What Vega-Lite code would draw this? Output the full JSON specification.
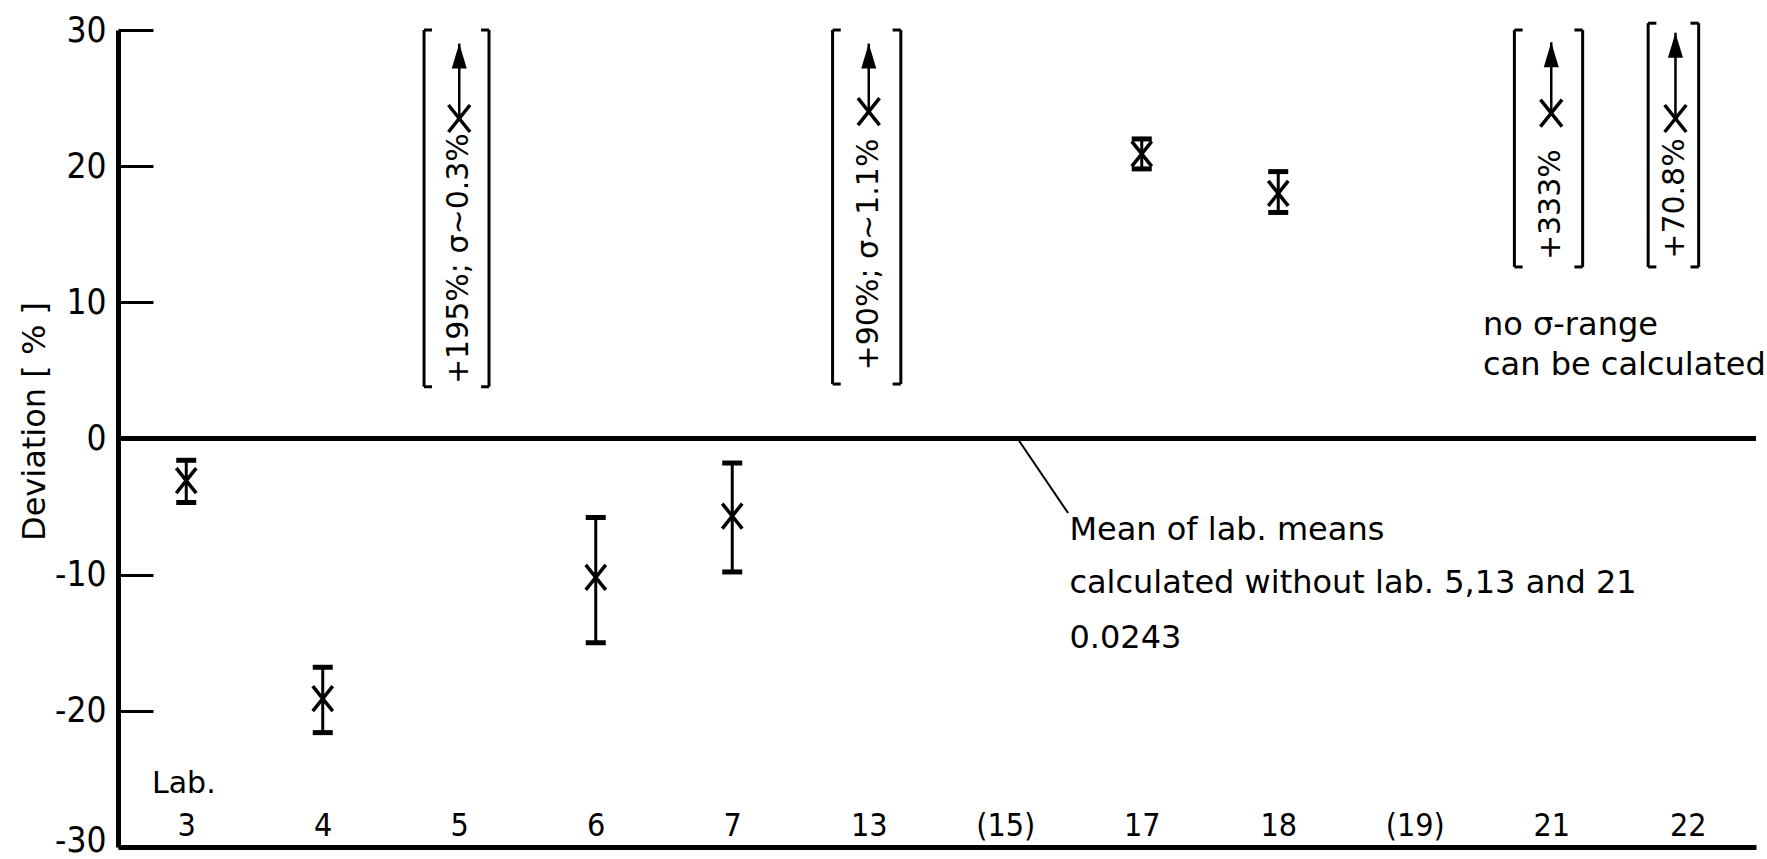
{
  "$schema": "https://vega.github.io/schema/vega-lite/v6.json",
  "width": 1638,
  "height": 817,
  "autosize": {"type": "none"},
  "padding": {"left": 118, "top": 30, "right": 11, "bottom": 12},
  "background": "white",
  "config": {"view": {"stroke": null}, "font": "DejaVu Sans"},
  "datasets": {
    "labs": [
      {"lab": "3", "x": 0, "y": -3.1, "lo": -4.7, "hi": -1.6},
      {"lab": "4", "x": 1, "y": -19.1, "lo": -21.6, "hi": -16.8},
      {"lab": "6", "x": 3, "y": -10.2, "lo": -15.0, "hi": -5.8},
      {"lab": "7", "x": 4, "y": -5.7, "lo": -9.8, "hi": -1.8},
      {"lab": "17", "x": 7, "y": 20.9, "lo": 19.8, "hi": 22.0},
      {"lab": "18", "x": 8, "y": 18.0, "lo": 16.6, "hi": 19.6}
    ],
    "outl": [
      {"lab": "5", "x": 2, "y": 23.5, "tip": 29.0, "ty": 4.0, "label": "+195%; σ~0.3%"},
      {"lab": "13", "x": 5, "y": 24.0, "tip": 29.0, "ty": 5.0, "label": "+90%; σ~1.1%"},
      {"lab": "21", "x": 10, "y": 23.9, "tip": 29.1, "ty": 13.1, "label": "+333%"},
      {"lab": "22", "x": 10.91, "y": 23.5, "tip": 29.8, "ty": 13.2, "label": "+70.8%"}
    ],
    "brk": [
      {"lab": "5", "x": 1.742, "xs": 1.80, "lo": 3.8, "hi": 30},
      {"lab": "5", "x": 2.218, "xs": 2.16, "lo": 3.8, "hi": 30},
      {"lab": "13", "x": 4.735, "xs": 4.795, "lo": 4.0, "hi": 30},
      {"lab": "13", "x": 5.235, "xs": 5.175, "lo": 4.0, "hi": 30},
      {"lab": "21", "x": 9.73, "xs": 9.79, "lo": 12.6, "hi": 30},
      {"lab": "21", "x": 10.23, "xs": 10.17, "lo": 12.6, "hi": 30},
      {"lab": "22", "x": 10.71, "xs": 10.77, "lo": 12.6, "hi": 30.5},
      {"lab": "22", "x": 11.08, "xs": 11.02, "lo": 12.6, "hi": 30.5}
    ],
    "zero": [{"y": 0}],
    "lead": [{"x": 6.09, "y": 0, "x2": 6.46, "y2": -5.47}],
    "notes": [
      {"x": 6.47, "y": -7.45, "text": "Mean of lab. means"},
      {"x": 6.47, "y": -11.35, "text": "calculated without lab. 5,13 and 21"},
      {"x": 6.47, "y": -15.4, "text": "0.0243"},
      {"x": 9.5, "y": 7.6, "text": "no σ-range"},
      {"x": 9.5, "y": 4.66, "text": "can be calculated"}
    ],
    "lablab": [{"x": -0.251, "y": -26.0, "text": "Lab."}]
  },
  "layer": [
    {
      "data": {"name": "labs"},
      "mark": {"type": "rule", "strokeWidth": 3, "color": "black"},
      "encoding": {
        "x": {
          "field": "x", "type": "quantitative",
          "scale": {"domain": [-0.5, 11.5], "nice": false, "zero": false},
          "axis": {
            "title": null,
            "values": [0, 1, 2, 3, 4, 5, 6, 7, 8, 9, 10, 11],
            "labelExpr": "['3','4','5','6','7','13','(15)','17','18','(19)','21','22'][datum.value]",
            "ticks": false, "grid": false,
            "domain": true, "domainWidth": 5, "domainColor": "black",
            "labelPadding": -22, "labelBaseline": "middle",
            "labelFontSize": 32, "labelFont": "DejaVu Sans Condensed, Liberation Sans Narrow, DejaVu Sans",
            "labelColor": "black", "labelFlush": false, "labelOverlap": false
          }
        },
        "y": {
          "field": "lo", "type": "quantitative",
          "scale": {"domain": [-30, 30], "nice": false, "zero": false},
          "axis": {
            "title": "Deviation [ % ]",
            "values": [-30, -20, -10, 0, 10, 20, 30],
            "labelExpr": "(datum.value < 0 ? '-' : '') + abs(datum.value)",
            "labelOffset": {"condition": {"test": "datum.value === -30", "value": -7}, "value": 0},
            "tickSize": -35, "tickWidth": 3, "tickColor": "black",
            "domainWidth": 5, "domainColor": "black", "grid": false,
            "labelPadding": 47, "labelFontSize": 35,
            "labelFont": "DejaVu Sans Condensed, Liberation Sans Narrow, DejaVu Sans",
            "labelColor": "black", "labelFlush": false, "labelOverlap": false,
            "titleFontSize": 32, "titleFont": "DejaVu Sans", "titleFontWeight": "normal",
            "titleColor": "black", "titleX": -84, "titleY": 391, "titleAngle": 270,
            "titleBaseline": "middle", "titleAlign": "center"
          }
        },
        "y2": {"field": "hi"}
      }
    },
    {
      "data": {"name": "zero"},
      "mark": {"type": "rule", "strokeWidth": 5, "color": "black"},
      "encoding": {"y": {"field": "y", "type": "quantitative"}}
    },
    {
      "data": {"name": "lead"},
      "mark": {"type": "rule", "strokeWidth": 2, "color": "black"},
      "encoding": {
        "x": {"field": "x", "type": "quantitative"},
        "y": {"field": "y", "type": "quantitative"},
        "x2": {"field": "x2"},
        "y2": {"field": "y2"}
      }
    },
    {
      "data": {"name": "labs"},
      "mark": {"type": "tick", "orient": "horizontal", "size": 20, "thickness": 5, "color": "black", "opacity": 1},
      "encoding": {
        "x": {"field": "x", "type": "quantitative"},
        "y": {"field": "lo", "type": "quantitative"}
      }
    },
    {
      "data": {"name": "labs"},
      "mark": {"type": "tick", "orient": "horizontal", "size": 20, "thickness": 5, "color": "black", "opacity": 1},
      "encoding": {
        "x": {"field": "x", "type": "quantitative"},
        "y": {"field": "hi", "type": "quantitative"}
      }
    },
    {
      "data": {"name": "labs"},
      "mark": {"type": "point", "shape": "M-0.8,-1L0.8,1M-0.8,1L0.8,-1", "size": 625, "filled": false, "strokeWidth": 3.5, "color": "black", "opacity": 1},
      "encoding": {
        "x": {"field": "x", "type": "quantitative"},
        "y": {"field": "y", "type": "quantitative"}
      }
    },
    {
      "data": {"name": "brk"},
      "mark": {"type": "rule", "strokeWidth": 3, "color": "black"},
      "encoding": {
        "x": {"field": "x", "type": "quantitative"},
        "y": {"field": "lo", "type": "quantitative"},
        "y2": {"field": "hi"}
      }
    },
    {
      "data": {"name": "brk"},
      "mark": {"type": "rule", "strokeWidth": 3, "color": "black"},
      "encoding": {
        "x": {"field": "x", "type": "quantitative"},
        "x2": {"field": "xs"},
        "y": {"field": "lo", "type": "quantitative"}
      }
    },
    {
      "data": {"name": "brk"},
      "mark": {"type": "rule", "strokeWidth": 3, "color": "black"},
      "encoding": {
        "x": {"field": "x", "type": "quantitative"},
        "x2": {"field": "xs"},
        "y": {"field": "hi", "type": "quantitative"}
      }
    },
    {
      "data": {"name": "outl"},
      "mark": {"type": "rule", "strokeWidth": 2.5, "color": "black"},
      "encoding": {
        "x": {"field": "x", "type": "quantitative"},
        "y": {"field": "y", "type": "quantitative"},
        "y2": {"field": "tip"}
      }
    },
    {
      "data": {"name": "outl"},
      "mark": {"type": "point", "shape": "M0,0L0.3,1L-0.3,1Z", "size": 2500, "filled": true, "color": "black", "opacity": 1},
      "encoding": {
        "x": {"field": "x", "type": "quantitative"},
        "y": {"field": "tip", "type": "quantitative"}
      }
    },
    {
      "data": {"name": "outl"},
      "mark": {"type": "point", "shape": "M-0.8,-1L0.8,1M-0.8,1L0.8,-1", "size": 729, "filled": false, "strokeWidth": 3.5, "color": "black", "opacity": 1},
      "encoding": {
        "x": {"field": "x", "type": "quantitative"},
        "y": {"field": "y", "type": "quantitative"}
      }
    },
    {
      "data": {"name": "outl"},
      "mark": {"type": "text", "angle": 270, "align": "left", "baseline": "middle", "fontSize": 30, "font": "DejaVu Sans", "color": "black"},
      "encoding": {
        "x": {"field": "x", "type": "quantitative"},
        "y": {"field": "ty", "type": "quantitative"},
        "text": {"field": "label"}
      }
    },
    {
      "data": {"name": "notes"},
      "mark": {"type": "text", "align": "left", "baseline": "alphabetic", "fontSize": 32, "font": "DejaVu Sans", "color": "black"},
      "encoding": {
        "x": {"field": "x", "type": "quantitative"},
        "y": {"field": "y", "type": "quantitative"},
        "text": {"field": "text"}
      }
    },
    {
      "data": {"name": "lablab"},
      "mark": {"type": "text", "align": "left", "baseline": "alphabetic", "fontSize": 30, "font": "DejaVu Sans", "color": "black"},
      "encoding": {
        "x": {"field": "x", "type": "quantitative"},
        "y": {"field": "y", "type": "quantitative"},
        "text": {"field": "text"}
      }
    }
  ]
}
